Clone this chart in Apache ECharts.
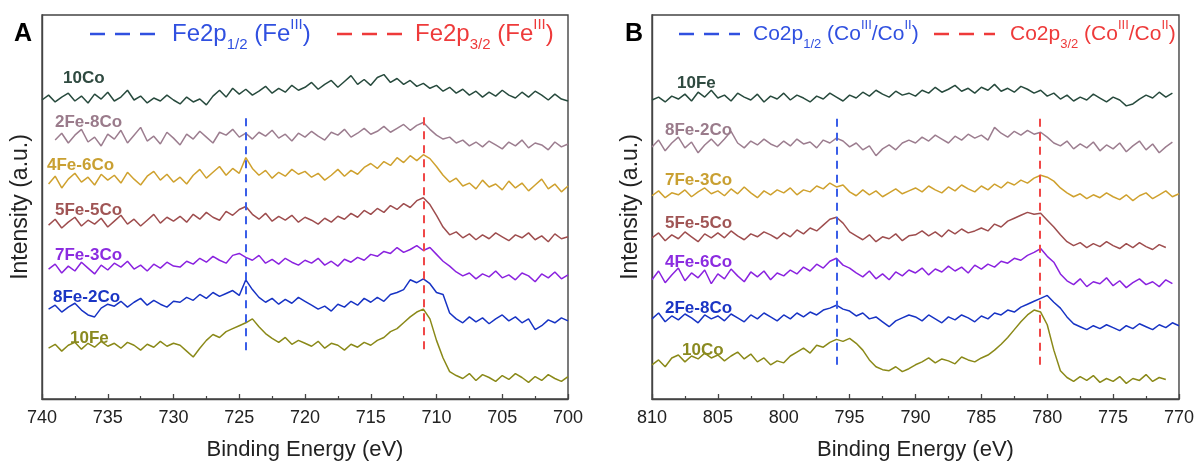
<!DOCTYPE html>
<html><head><meta charset="utf-8">
<script src="https://cdn.jsdelivr.net/npm/echarts@6/dist/echarts.min.js"></script>
<style>html,body{margin:0;padding:0;background:#fff}#c{width:1197px;height:466px}</style>
</head><body><div id="c"></div><script>
// ---------- DATA ----------
const stepEV = 0.5;
// Panel A: Fe 2p region (energies descend from the start value in 0.5 eV steps)
const namesA = ['10Co','2Fe-8Co','4Fe-6Co','5Fe-5Co','7Fe-3Co','8Fe-2Co','10Fe'];
const startA = [740, 739, 739.5, 739.5, 739.5, 739.5, 739.5];
const A_10Co = [306,311,304,309,313,305,310,303,312,307, 314,305,309,316,306,310,303,308,305,311,
  306,302,309,304,307,301,310,316,309,318, 312,317,311,315,320,313,318,314,321,316,
  319,324,317,322,326,319,325,331,322,327, 321,329,332,324,328,322,326,320,323,318,
  321,315,319,313,317,311,315,309,314,310, 316,311,308,314,309,315,311,306,312,307, 305];
const A_2Fe8Co = [265,272,262,270,276,263,268,259,271,266, 275,262,270,278,264,269,261,273,267,260,
  271,266,274,268,262,273,270,276,268,272, 266,273,269,275,267,271,264,272,268,274,
  269,265,273,270,276,268,272,277,271,274, 279,273,277,281,275,280,283,276,270,266,
  268,262,265,259,263,258,264,260,256,263, 259,265,257,262,260,255,263,258,261];
const A_4Fe6Co = [220,228,216,225,231,222,227,219,230,224, 229,221,232,225,219,228,233,224,230,222,
  227,220,229,235,226,232,238,229,236,231, 247,236,229,234,226,232,228,235,230,233,
  227,231,224,229,235,228,234,230,237,241, 236,243,239,247,242,249,244,250,246,238,
  229,222,226,218,221,215,224,217,220,214, 223,216,221,213,219,225,215,220,212,218];
const A_5Fe5Co = [178,184,175,181,186,177,183,179,185,176, 182,188,179,184,177,183,189,180,186,182,
  187,181,189,184,191,186,183,192,188,194, 197,189,184,190,182,187,183,188,181,186,
  183,179,185,181,187,184,190,186,193,189, 195,191,198,194,200,196,203,206,199,188,
  176,168,171,165,169,163,168,164,170,166, 162,168,165,170,163,167,161,169,164,166];
const A_7Fe3Co = [133,138,129,136,131,140,134,128,137,132, 139,135,141,133,137,131,138,134,140,136,
  135,141,138,144,140,146,142,139,147,149, 145,142,147,139,143,138,144,140,137,142,
  139,144,137,141,136,143,140,145,142,148, 146,151,149,155,150,153,157,152,155,148,
  141,136,130,126,129,123,128,125,131,124, 127,122,129,126,120,128,124,130,123,127];
const A_8Fe2Co = [92,96,89,94,98,91,86,84,93,97, 95,100,94,99,103,96,101,97,94,100,
  99,104,101,107,103,109,105,108,111,106, 122,112,104,99,103,97,102,98,104,100,
  96,92,95,90,97,94,100,96,103,99, 104,100,107,109,112,122,119,123,118,109,
  107,88,82,78,84,79,83,77,82,86, 80,84,78,82,71,75,81,78,83,80];
const A_10Fe = [52,56,49,55,58,51,57,53,59,54, 57,52,58,55,50,56,53,59,54,57,
  55,49,43,52,60,66,63,69,72,75, 78,82,74,67,62,58,63,56,60,57,
  54,59,52,57,55,50,56,53,58,55, 60,63,69,72,78,84,89,92,82,60,
  42,28,24,21,26,19,25,22,18,24, 20,26,22,17,23,19,25,21,18,23];
const valuesA = [A_10Co, A_2Fe8Co, A_4Fe6Co, A_5Fe5Co, A_7Fe3Co, A_8Fe2Co, A_10Fe];
const refEnergyA = [724.5, 711.0];
const refSpanA = [[50, 291], [51, 293]];

// Panel B: Co 2p region
const namesB = ['10Fe','8Fe-2Co','7Fe-3Co','5Fe-5Co','4Fe-6Co','2Fe-8Co','10Co'];
const startB = [810, 810, 810, 810, 810, 810, 810];
const B_10Fe = [306,309,304,310,307,312,305,314,309,316, 308,311,305,313,309,306,312,304,310,307,
  313,306,311,308,304,310,307,313,309,305, 311,308,314,310,316,312,309,315,311,313,
  310,316,313,319,314,317,321,315,318,313, 319,316,322,315,318,314,320,317,313,316,
  310,313,307,311,305,309,306,312,308,304, 309,306,300,302,307,311,308,314,309,313];
const B_8Fe2Co = [258,265,254,262,268,257,263,252,260,266, 259,266,274,262,257,264,260,266,261,258,
  264,259,266,261,263,257,265,262,267,264, 258,262,255,259,249,256,260,255,262,265,
  262,268,264,270,266,262,269,265,271,267, 270,265,278,272,268,274,270,275,271,273,
  268,262,259,264,256,261,257,263,254,260, 256,262,253,259,264,255,261,252,258,263];
const B_7Fe3Co = [208,213,206,211,209,214,207,212,216,210, 213,208,215,210,217,211,206,213,209,214,
  211,216,209,214,212,218,215,221,217,219, 212,208,214,209,213,207,211,215,210,213,
  216,212,218,214,211,217,213,219,215,212, 218,214,220,216,222,219,224,221,226,229,
  227,223,216,211,207,210,205,209,206,211, 207,204,209,203,208,211,205,209,213,207, 210];
const B_5Fe5Co = [165,170,162,168,164,171,166,161,169,165, 170,165,172,167,163,169,166,171,168,164,
  170,166,173,169,175,172,178,184,186,180, 171,167,163,168,161,166,164,169,162,167,
  168,172,167,171,166,173,169,174,170,172, 175,172,179,176,182,185,188,191,189,190,
  183,176,168,161,157,160,155,159,156,161, 157,154,159,155,160,156,153,158,155];
const B_4Fe6Co = [122,131,119,127,134,121,129,124,132,118, 128,123,133,126,120,130,125,131,122,129,
  126,132,128,135,131,138,134,141,144,137, 134,129,125,131,123,128,122,130,126,132,
  129,134,127,133,130,136,131,135,129,137, 133,138,135,141,139,144,142,147,150,154,
  146,140,128,121,117,123,115,120,118,124, 116,121,114,119,123,117,120,115,122,118];
const B_2Fe8Co = [82,88,79,85,81,87,83,78,86,82, 85,80,87,83,79,86,82,88,84,80,
  86,82,88,84,89,86,91,93,96,92, 90,85,88,82,84,79,74,80,83,86,
  84,80,86,82,78,84,81,86,83,79, 85,82,88,86,91,89,94,97,100,103,
  106,99,93,84,77,74,71,75,72,76, 73,70,75,72,77,74,71,76,73,78, 75];
const B_10Co = [35,40,33,42,45,38,44,41,47,42, 45,39,44,48,41,46,38,42,35,39,
  37,44,48,52,47,55,53,58,61,59, 62,57,50,40,33,30,29,33,28,31,
  35,38,42,37,41,39,36,43,40,38, 42,45,50,56,63,71,79,86,91,89,
  76,50,29,22,18,23,19,24,17,21, 18,23,16,21,19,25,18,22,20];
const valuesB = [B_10Fe, B_8Fe2Co, B_7Fe3Co, B_5Fe5Co, B_4Fe6Co, B_2Fe8Co, B_10Co];
const refEnergyB = [796.0, 780.6];
const refSpanB = [[35, 290], [35, 291]];

const rangeA = [700, 740];
const rangeB = [770, 810];
const tickStep = 5;

// ---------- STYLE ----------
const FONT = '"Liberation Sans", Arial, sans-serif';
const lineColors = ['#274a3d','#9c7d8f','#cfa12e','#9e4d4e','#8a22df','#1733c4','#8a8918'];
const labelColors = ['#2f4a40','#9a7b8b','#c9a032','#a05555','#8b2be0','#1a35c4','#8a8a20'];
const refColors = ['#3a5ee8','#f04848'];
const labelPosA = [[63,78],[55,122],[47,165],[55,210],[55,255],[53,297],[70,338]];
const labelPosB = [[677,83],[665,130],[665,180],[665,223],[665,262],[665,308],[682,350]];

function toPairs(start, vals){ return vals.map((v,i)=>[start - stepEV*i, v]); }

function xAxisFor(range, gi){
  return {
    type:'value', gridIndex:gi, min:range[0], max:range[1], interval:tickStep, inverse:true,
    axisLine:{show:true, onZero:false, lineStyle:{color:'#444', width:1.4}},
    axisTick:{show:true, inside:true, length:5, lineStyle:{color:'#444', width:1.3}},
    minorTick:{show:true, splitNumber:2, length:3, lineStyle:{color:'#444', width:1.2}},
    splitLine:{show:false}, minorSplitLine:{show:false},
    axisLabel:{fontSize:18, color:'#222', fontFamily:FONT, margin:10},
    name:'Binding Energy (eV)', nameLocation:'middle', nameGap:40,
    nameTextStyle:{fontSize:22, color:'#222', fontFamily:FONT}
  };
}
function yAxisFor(gi){
  return {
    type:'value', gridIndex:gi, min:0, max:393,
    axisLine:{show:true, lineStyle:{color:'#444', width:1.4}},
    axisTick:{show:false}, axisLabel:{show:false}, splitLine:{show:false},
    name:'Intensity (a.u.)', nameLocation:'middle', nameGap:10,
    nameTextStyle:{fontSize:23, color:'#222', fontFamily:FONT}
  };
}

const series = [];
function addPanel(names, starts, vals, refE, refSpan, gi){
  names.forEach((n,k)=>{
    const s = {
      type:'line', name:n, xAxisIndex:gi, yAxisIndex:gi,
      data:toPairs(starts[k], vals[k]), showSymbol:false, symbol:'none',
      lineStyle:{color:lineColors[k], width:1.5}, z:3, silent:true
    };
    if(k===0){
      s.markLine = {
        silent:true, symbol:['none','none'], label:{show:false}, animation:false,
        data: refE.map((e,j)=>[
          {coord:[e, refSpan[j][0]], lineStyle:{color:refColors[j], type:[8,6], width:2}},
          {coord:[e, refSpan[j][1]]}
        ])
      };
    }
    series.push(s);
  });
}
addPanel(namesA, startA, valuesA, refEnergyA, refSpanA, 0);
addPanel(namesB, startB, valuesB, refEnergyB, refSpanB, 1);

const graphics = [];
function addLabels(names, pos){
  names.forEach((n,k)=>graphics.push({type:'text', x:pos[k][0], y:pos[k][1], z:10,
    style:{text:n, fill:labelColors[k], font:'bold 17px '+FONT, align:'left', verticalAlign:'middle'}}));
}
addLabels(namesA, labelPosA);
addLabels(namesB, labelPosB);
graphics.push({type:'text', x:14, y:34, style:{text:'A', fill:'#000', font:'bold 25px '+FONT, align:'left', verticalAlign:'middle'}});
graphics.push({type:'text', x:625, y:34, style:{text:'B', fill:'#000', font:'bold 25px '+FONT, align:'left', verticalAlign:'middle'}});

function legendItem(x1, x2, tx, y, color, richText, size){
  graphics.push({type:'line', shape:{x1:x1, y1:y, x2:x2, y2:y},
    style:{stroke:color, lineWidth:2.5, lineDash:[15,10]}});
  const sub = Math.round(size*0.62);
  graphics.push({type:'text', x:tx, y:y, style:{
    text:richText, align:'left', verticalAlign:'middle',
    rich:{
      m:{fill:color, fontSize:size, fontFamily:FONT, lineHeight:size+6, verticalAlign:'middle'},
      s:{fill:color, fontSize:sub, fontFamily:FONT, lineHeight:sub, verticalAlign:'bottom', padding:[0,0,-3,0]},
      p:{fill:color, fontSize:sub, fontFamily:FONT, lineHeight:sub, verticalAlign:'top', padding:[-2,0,0,0]}
    }}});
}
legendItem(90,155,172,34,'#3050e0','{m|Fe2p}{s|1/2}{m| (Fe}{p|III}{m|)}',24);
legendItem(337,402,415,34,'#ee3a3a','{m|Fe2p}{s|3/2}{m| (Fe}{p|III}{m|)}',24);
legendItem(679,740,753,34,'#3050e0','{m|Co2p}{s|1/2}{m| (Co}{p|III}{m|/Co}{p|II}{m|)}',21);
legendItem(934,995,1010,34,'#ee3a3a','{m|Co2p}{s|3/2}{m| (Co}{p|III}{m|/Co}{p|II}{m|)}',21);

const chart = echarts.init(document.getElementById('c'), null, {renderer:'canvas'});
chart.setOption({
  animation:false, backgroundColor:'#fff',
  textStyle:{fontFamily:FONT},
  grid:[
    {left:42, right:1197-568, top:15, bottom:466-408, show:true, borderColor:'#444', borderWidth:1.4, backgroundColor:'transparent'},
    {left:652, right:1197-1180, top:15, bottom:466-408, show:true, borderColor:'#444', borderWidth:1.4, backgroundColor:'transparent'}
  ],
  xAxis:[xAxisFor(rangeA,0), xAxisFor(rangeB,1)],
  yAxis:[yAxisFor(0), yAxisFor(1)],
  series:series,
  graphic:graphics
});
</script></body></html>
